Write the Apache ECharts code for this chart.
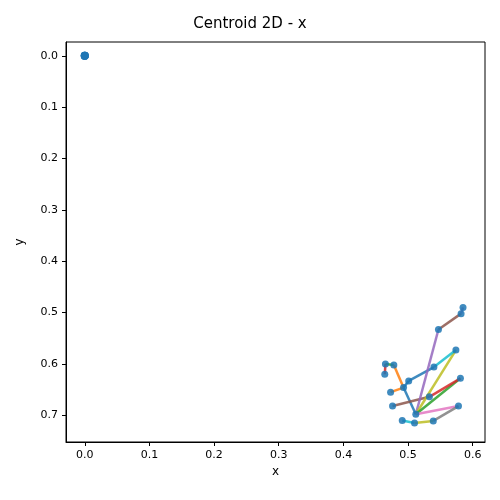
<!DOCTYPE html>
<html lang="en">
<head>
<meta charset="UTF-8">
<title>Centroid 2D - x</title>
<script src="https://cdn.jsdelivr.net/npm/echarts@6/dist/echarts.min.js"></script>
</head>
<body style="margin:0">
<div id="main" style="width:500px;height:500px;"></div>
<script>
// centroid points (x, y)
var names = ['A','B','C','D','E','F','G','H','I','J','K','L','M','N','O','P','Q','R','S'];
var xs = [0.585,0.582,0.547,0.574,0.540,0.465,0.478,0.464,0.501,0.581,0.493,0.473,0.533,0.476,0.578,0.512,0.491,0.510,0.539];
var ys = [0.490,0.502,0.533,0.573,0.606,0.600,0.602,0.620,0.633,0.628,0.646,0.655,0.664,0.682,0.682,0.698,0.710,0.715,0.711];
// segments: [from, to, colour]
var segments = [
    ['F','H','#d62728'], ['F','G','#2ca02c'], ['G','K','#ff7f0e'], ['K','L','#ff7f0e'],
    ['E','I','#1f77b4'], ['I','K','#1f77b4'], ['K','P','#1f77b4'], ['N','M','#8c564b'],
    ['C','P','#9467bd'], ['D','P','#bcbd22'], ['D','E','#17becf'], ['J','P','#2ca02c'],
    ['M','J','#d62728'], ['O','P','#e377c2'], ['O','S','#7f7f7f'], ['S','R','#bcbd22'],
    ['R','Q','#17becf'], ['C','B','#8c564b'], ['B','A','#9467bd']
];
var originX = [0, 0, 0, 0, 0];
var originY = [0, 0, 0, 0, 0];
var xTicks = [0.0, 0.1, 0.2, 0.3, 0.4, 0.5, 0.6];
var yTicks = [0.0, 0.1, 0.2, 0.3, 0.4, 0.5, 0.6, 0.7];

function pt(n) { var i = names.indexOf(n); return [xs[i], ys[i]]; }

var series = [];
segments.forEach(function (s) {
    series.push({
        type: 'line', data: [pt(s[0]), pt(s[1])], showSymbol: false, silent: true,
        lineStyle: {color: s[2], width: 2.5, opacity: 0.85}, z: 2
    });
});
series.push({
    type: 'scatter', symbolSize: 7, z: 3,
    itemStyle: {color: '#1f77b4', opacity: 0.85},
    data: xs.map(function (x, i) { return [x, ys[i]]; })
});
series.push({
    type: 'scatter', symbolSize: 8, z: 3,
    itemStyle: {color: '#1f77b4'},
    data: originX.map(function (x, i) { return [x, originY[i]]; })
});

var axisCommon = {
    axisLine: {show: true, onZero: false, lineStyle: {color: '#000'}},
    axisTick: {show: true, length: 4, lineStyle: {color: '#000'}},
    splitLine: {show: false},
    nameLocation: 'middle',
    nameTextStyle: {color: '#000', fontSize: 12, fontFamily: 'DejaVu Sans'}
};

var chart = echarts.init(document.getElementById('main'));
chart.setOption({
    animation: false,
    title: {text: 'Centroid 2D - x', left: 'center', top: 12,
        textStyle: {fontSize: 15, fontWeight: 'normal', color: '#000', fontFamily: 'DejaVu Sans'}},
    grid: {left: 66, right: 15, top: 42, bottom: 58, show: true, borderColor: '#000', borderWidth: 1},
    xAxis: Object.assign({}, axisCommon, {
        type: 'value', min: -0.029, max: 0.619, name: 'x', nameGap: 22,
        axisTick: Object.assign({}, axisCommon.axisTick, {customValues: xTicks}),
        axisLabel: {customValues: xTicks, color: '#000', fontSize: 11, fontFamily: 'DejaVu Sans',
            formatter: function (v) { return v.toFixed(1); }}
    }),
    yAxis: Object.assign({}, axisCommon, {
        type: 'value', inverse: true, min: -0.027, max: 0.752, name: 'y', nameGap: 40,
        axisTick: Object.assign({}, axisCommon.axisTick, {customValues: yTicks}),
        axisLabel: {customValues: yTicks, color: '#000', fontSize: 11, fontFamily: 'DejaVu Sans',
            formatter: function (v) { return v.toFixed(1); }}
    }),
    series: series
});
</script>
</body>
</html>
